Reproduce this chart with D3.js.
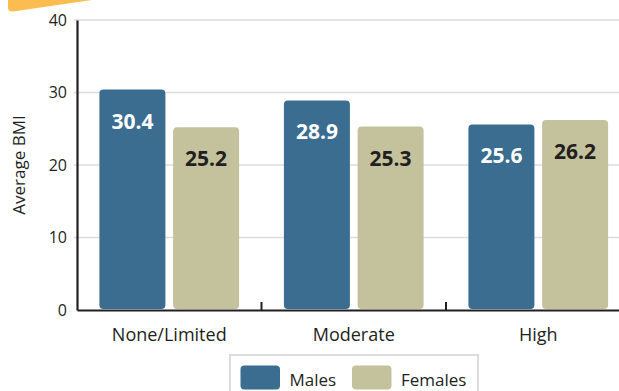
<!DOCTYPE html>
<html>
<head>
<meta charset="utf-8">
<script src="https://cdn.jsdelivr.net/npm/d3@7"></script>
<style>
  html, body { margin: 0; padding: 0; background: #fff; }
  svg { display: block; font-family: "Open Sans", sans-serif; }
</style>
</head>
<body>
<svg id="chart" width="619" height="391"></svg>
<script>
const categories = ["None/Limited", "Moderate", "High"];
const seriesNames = ["Males", "Females"];
const males = [30.4, 28.9, 25.6];
const females = [25.2, 25.3, 26.2];
const yTicks = [0, 10, 20, 30, 40];
const colors = { Males: "#3a6d8f", Females: "#c4c29c" };
const labelColors = { Males: "#ffffff", Females: "#231f20" };

const data = categories.map((c, i) => ({ cat: c, Males: males[i], Females: females[i] }));

const svg = d3.select("#chart");

// decorative orange banner at top-left
svg.append("path")
  .attr("d", "M8,0 L92,0 L13,11.5 Q8,12.3 8,7 Z")
  .attr("fill", "#fbbd4f");

const x0 = d3.scaleBand().domain(categories).range([77, 630.5]).paddingInner(0).paddingOuter(0);
const x1 = d3.scaleBand().domain(seriesNames).range([0, x0.bandwidth()]).paddingInner(0.1045).paddingOuter(0.304);
const y = d3.scaleLinear().domain([0, 40]).range([310, 20]);

// gridlines
svg.append("g").selectAll("line").data(yTicks.filter(t => t > 0)).join("line")
  .attr("x1", 74).attr("x2", 619)
  .attr("y1", d => y(d)).attr("y2", d => y(d))
  .attr("stroke", "#dcdcdc").attr("stroke-width", 1.6);

// y axis
const yAxis = svg.append("g").attr("transform", "translate(77,0)")
  .call(d3.axisLeft(y).tickValues(yTicks).tickSize(0).tickPadding(10));
yAxis.select(".domain").attr("stroke", "#231f20").attr("stroke-width", 2.2);
yAxis.selectAll("text").attr("font-size", 16).attr("fill", "#231f20").attr("font-family", "Open Sans, sans-serif");

// bars
const groups = svg.append("g").selectAll("g").data(data).join("g")
  .attr("transform", d => `translate(${x0(d.cat)},0)`);

groups.selectAll("rect").data(d => seriesNames.map(s => ({ s, v: d[s] }))).join("rect")
  .attr("x", d => x1(d.s))
  .attr("y", d => y(d.v))
  .attr("width", x1.bandwidth())
  .attr("height", d => y(0) - y(d.v) - 1)
  .attr("rx", 4)
  .attr("fill", d => colors[d.s]);

groups.selectAll("text").data(d => seriesNames.map(s => ({ s, v: d[s] }))).join("text")
  .attr("x", d => x1(d.s) + x1.bandwidth() / 2)
  .attr("y", d => y(d.v) + 39)
  .attr("text-anchor", "middle")
  .attr("font-size", 21)
  .attr("font-weight", 700)
  .attr("fill", d => labelColors[d.s])
  .text(d => d.v.toFixed(1));

// x axis
const xAxis = svg.append("g").attr("transform", "translate(0,310)")
  .call(d3.axisBottom(x0).tickSize(0).tickPadding(18));
xAxis.select(".domain").attr("stroke", "#231f20").attr("stroke-width", 2.2);
xAxis.selectAll("text").attr("font-size", 18).attr("fill", "#231f20").attr("font-family", "Open Sans, sans-serif");

// category separator ticks
svg.append("g").selectAll("line").data(categories.slice(1)).join("line")
  .attr("x1", d => x0(d)).attr("x2", d => x0(d))
  .attr("y1", 302).attr("y2", 310)
  .attr("stroke", "#231f20").attr("stroke-width", 2);

// y axis title
svg.append("text")
  .attr("transform", "translate(25,165) rotate(-90)")
  .attr("text-anchor", "middle")
  .attr("font-size", 17)
  .attr("fill", "#231f20")
  .text("Average BMI");

// legend
const legend = svg.append("g");
legend.append("rect")
  .attr("x", 230).attr("y", 355).attr("width", 248).attr("height", 50)
  .attr("fill", "#fff").attr("stroke", "#dcdcdc").attr("stroke-width", 2);
const legendX = [240.5, 352];
const legendItems = legend.selectAll("g").data(seriesNames).join("g")
  .attr("transform", (d, i) => `translate(${legendX[i]},0)`);
legendItems.append("rect")
  .attr("x", 0).attr("y", 365.5).attr("width", 39.5).attr("height", 24)
  .attr("rx", 4).attr("fill", d => colors[d]);
legendItems.append("text")
  .attr("x", 49).attr("y", 386)
  .attr("font-size", 17).attr("fill", "#231f20")
  .text(d => d);
</script>
</body>
</html>
